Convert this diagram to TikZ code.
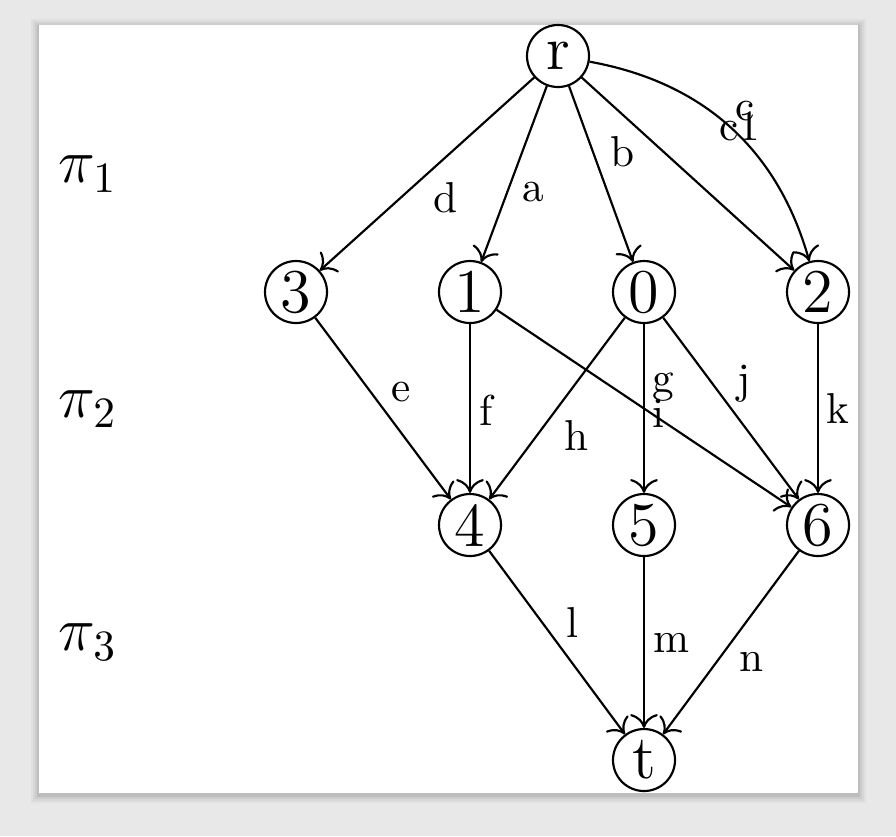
\documentclass[tikz,border=0pt]{standalone}
\usetikzlibrary{arrows.meta}
\begin{document}
\begin{tikzpicture}[x=0.2313pt,y=-0.2313pt,
  vtx/.style={draw,circle,minimum size=14.34pt,inner sep=0pt,font=\Large,line width=0.5pt},
  lbl/.style={inner sep=0pt},
  edge/.style={-{To[length=3.2pt,width=6.4pt]},line width=0.5pt},
  lvl/.style={inner sep=0pt,font=\Large}]
% background and page
\fill[gray!18] (0,0) rectangle (896,836);
\foreach \k/\o in {8/0.03,6/0.04,4/0.05,2/0.07}{
  \fill[black,opacity=\o] (39-\k,25-\k+2) rectangle (858+\k,793+\k+2);}
\fill[white] (39,25) rectangle (858,793);
\useasboundingbox (0,0) rectangle (896,836);
% nodes
\node[vtx] (r) at (558,56) {r};
\node[vtx] (n3) at (296,292) {3};
\node[vtx] (n1) at (470,292) {1};
\node[vtx] (n0) at (644,292) {0};
\node[vtx] (n2) at (818,292) {2};
\node[vtx] (n4) at (470,525) {4};
\node[vtx] (n5) at (644,525) {5};
\node[vtx] (n6) at (818,525) {6};
\node[vtx] (t) at (644,760) {t};
% level labels
\node[lvl] (p1) at (88,174) {$\pi_1$};
\node[lvl] (p2) at (88,409) {$\pi_2$};
\node[lvl] (p3) at (88,642) {$\pi_3$};
% edges
\draw[edge] (r) -- (n3);
\draw[edge] (r) -- (n1);
\draw[edge] (r) -- (n0);
\draw[edge] (r) -- (n2);
\draw[edge] (r) to[bend left=32] (n2);
\draw[edge] (n3) -- (n4);
\draw[edge] (n1) -- (n4);
\draw[edge] (n1) -- (n6);
\draw[edge] (n0) -- (n4);
\draw[edge] (n0) -- (n5);
\draw[edge] (n0) -- (n6);
\draw[edge] (n2) -- (n6);
\draw[edge] (n4) -- (t);
\draw[edge] (n5) -- (t);
\draw[edge] (n6) -- (t);
% edge labels
\node[lbl] (ld) at (446,198) {d};
\node[lbl] (la) at (533,192) {a};
\node[lbl] (lb) at (622,152) {b};
\node[lbl] (lc) at (745,111) {c};
\node[lbl] (lc1) at (740,126) {c1};
\node[lbl] (le) at (401,392) {e};
\node[lbl] (lf) at (486,410) {f};
\node[lbl] (lh) at (577,435) {h};
\node[lbl] (lg) at (663,387) {g};
\node[lbl] (li) at (658,413) {i};
\node[lbl] (lj) at (744,384) {j};
\node[lbl] (lk) at (838,408) {k};
\node[lbl] (ll) at (572,622) {l};
\node[lbl] (lm) at (671,643) {m};
\node[lbl] (ln) at (751,662) {n};
\end{tikzpicture}
\end{document}
